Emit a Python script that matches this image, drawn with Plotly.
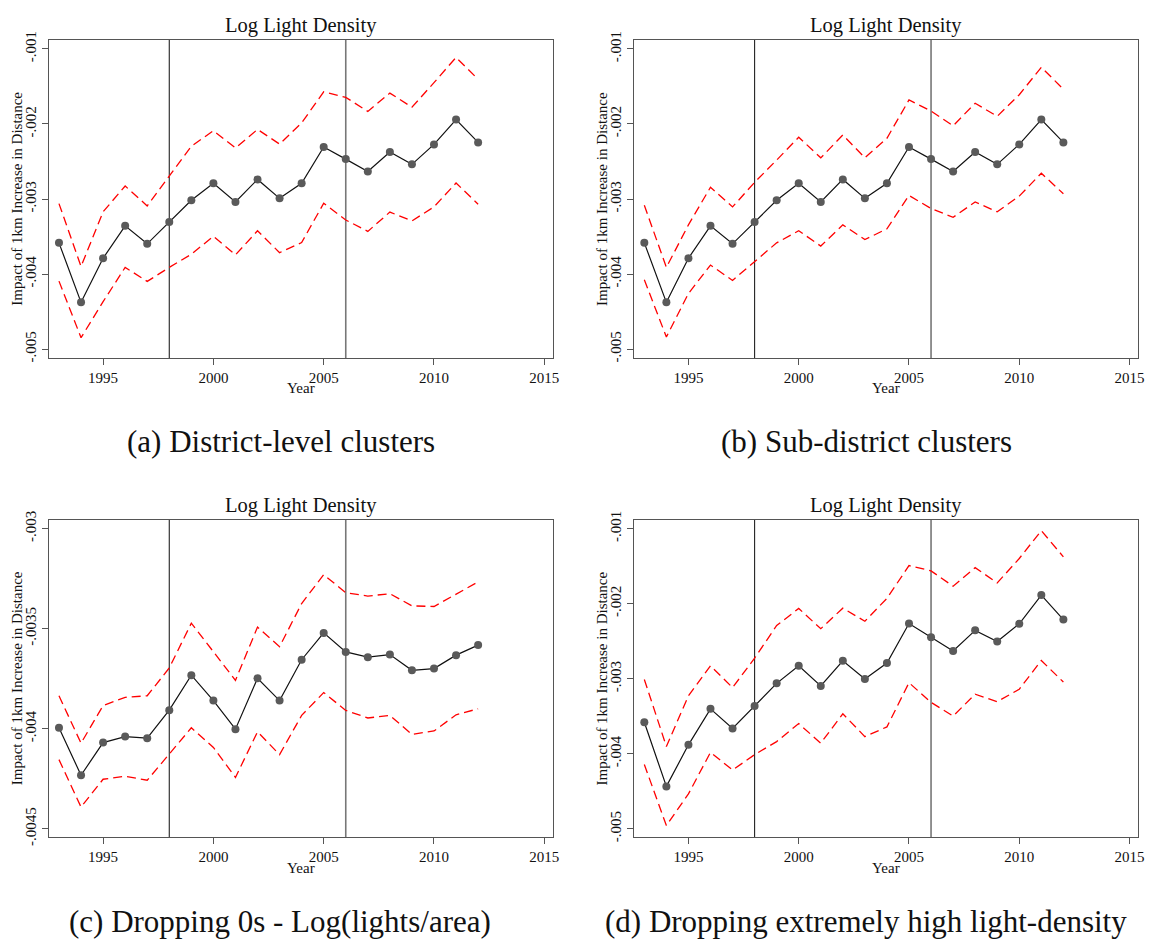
import plotly.graph_objects as go

years = list(range(1993, 2013))

# Panel (a) District-level clusters
est_a = [-0.003584, -0.004377, -0.003789, -0.003357, -0.003597, -0.003305, -0.003017, -0.002791, -0.003039, -0.002739,
         -0.002991, -0.002791, -0.002307, -0.002468, -0.002634, -0.002373, -0.002538, -0.002272, -0.001941, -0.002246]
hi_a = [-0.003061, -0.003898, -0.003170, -0.002826, -0.003092, -0.002691, -0.002298, -0.002089, -0.002320, -0.002072,
        -0.002268, -0.001985, -0.001571, -0.001645, -0.001832, -0.001588, -0.001776, -0.001449, -0.001113, -0.001405]
lo_a = [-0.004094, -0.004848, -0.004368, -0.003911, -0.004098, -0.003911, -0.003736, -0.003497, -0.003745, -0.003423,
        -0.003715, -0.003580, -0.003057, -0.003279, -0.003431, -0.003174, -0.003292, -0.003105, -0.002786, -0.003070]

# Panel (b) Sub-district clusters
est_b = [-0.003584, -0.004377, -0.003789, -0.003357, -0.003597, -0.003305, -0.003017, -0.002791, -0.003039, -0.002739,
         -0.002991, -0.002791, -0.002307, -0.002468, -0.002634, -0.002373, -0.002538, -0.002272, -0.001941, -0.002246]
hi_b = [-0.003083, -0.003911, -0.003344, -0.002843, -0.003105, -0.002778, -0.002481, -0.002176, -0.002451, -0.002146,
        -0.002451, -0.002190, -0.001680, -0.001828, -0.002024, -0.001723, -0.001898, -0.001610, -0.001244, -0.001536]
lo_b = [-0.004076, -0.004839, -0.004259, -0.003880, -0.004085, -0.003832, -0.003584, -0.003423, -0.003627, -0.003344,
        -0.003540, -0.003397, -0.002952, -0.003126, -0.003244, -0.003039, -0.003170, -0.002961, -0.002656, -0.002930]

# Panel (c) Dropping 0s - Log(lights/area)
est_c = [-0.003995, -0.004232, -0.004069, -0.004039, -0.004047, -0.003907, -0.003732, -0.003859, -0.004002, -0.003748,
         -0.003859, -0.003655, -0.003521, -0.003616, -0.003642, -0.003629, -0.003708, -0.003699, -0.003632, -0.003582]
hi_c = [-0.003835, -0.004072, -0.003884, -0.003843, -0.003835, -0.003696, -0.003472, -0.003618, -0.003758, -0.003492,
        -0.003590, -0.003374, -0.003230, -0.003320, -0.003337, -0.003325, -0.003386, -0.003389, -0.003328, -0.003266]
lo_c = [-0.004154, -0.004391, -0.004252, -0.004237, -0.004257, -0.004126, -0.003995, -0.004093, -0.004243, -0.004015,
        -0.004129, -0.003933, -0.003819, -0.003908, -0.003946, -0.003933, -0.004028, -0.004011, -0.003930, -0.003900]

# Panel (d) Dropping extremely high light-density
est_d = [-0.003580, -0.004434, -0.003880, -0.003401, -0.003662, -0.003362, -0.003061, -0.002826, -0.003096, -0.002760,
         -0.003004, -0.002791, -0.002264, -0.002447, -0.002630, -0.002355, -0.002503, -0.002268, -0.001885, -0.002211]
hi_d = [-0.003009, -0.003902, -0.003227, -0.002826, -0.003118, -0.002725, -0.002290, -0.002063, -0.002333, -0.002059,
        -0.002233, -0.001928, -0.001492, -0.001562, -0.001767, -0.001519, -0.001723, -0.001397, -0.001026, -0.001375]
lo_d = [-0.004142, -0.004956, -0.004534, -0.003980, -0.004216, -0.004011, -0.003837, -0.003597, -0.003858, -0.003466,
        -0.003771, -0.003641, -0.003052, -0.003314, -0.003497, -0.003205, -0.003305, -0.003139, -0.002756, -0.003044]

x_ticks = [1995, 2000, 2005, 2010, 2015]
y_ticks_main = [-0.001, -0.002, -0.003, -0.004, -0.005]
y_labels_main = ["-.001", "-.002", "-.003", "-.004", "-.005"]
y_ticks_c = [-0.003, -0.0035, -0.004, -0.0045]
y_labels_c = ["-.003", "-.0035", "-.004", "-.0045"]

panel_title = "Log Light Density"
x_title = "Year"
y_title = "Impact of 1km Increase in Distance"
captions = ["(a) District-level clusters", "(b) Sub-district clusters",
            "(c) Dropping 0s - Log(lights/area)", "(d) Dropping extremely high light-density"]
event_years = [1998, 2006]

W, H = 1158, 949
FONT = "Liberation Serif"

panels = [
    dict(est=est_a, hi=hi_a, lo=lo_a, yt=y_ticks_main, yl=y_labels_main, yr=[-0.005118, -0.000882],
         px=(49.3, 556.0), py=(31.7, 355.7)),
    dict(est=est_b, hi=hi_b, lo=lo_b, yt=y_ticks_main, yl=y_labels_main, yr=[-0.005118, -0.000882],
         px=(637.7, 1144.3), py=(31.7, 355.7)),
    dict(est=est_c, hi=hi_c, lo=lo_c, yt=y_ticks_c, yl=y_labels_c, yr=[-0.004542, -0.002956],
         px=(49.3, 556.0), py=(520.7, 844.3)),
    dict(est=est_d, hi=hi_d, lo=lo_d, yt=y_ticks_main, yl=y_labels_main, yr=[-0.005112, -0.000882],
         px=(637.7, 1144.3), py=(520.7, 844.3)),
]
caption_pos = [(282, 441), (871, 441), (281, 930), (871, 930)]

fig = go.Figure()
layout = dict(
    width=W, height=H, margin=dict(l=0, r=0, t=0, b=0),
    paper_bgcolor="white", plot_bgcolor="white", showlegend=False,
    font=dict(family=FONT, color="#111", size=15),
)
shapes = []
annotations = []

for i, p in enumerate(panels):
    n = i + 1
    xa = "x" if n == 1 else f"x{n}"
    ya = "y" if n == 1 else f"y{n}"
    xkey = "xaxis" if n == 1 else f"xaxis{n}"
    ykey = "yaxis" if n == 1 else f"yaxis{n}"
    xd = [p["px"][0] / W, p["px"][1] / W]
    yd = [1 - p["py"][1] / H, 1 - p["py"][0] / H]

    for ci in (p["hi"], p["lo"]):
        fig.add_trace(go.Scatter(x=years, y=ci, mode="lines", xaxis=xa, yaxis=ya,
                                 line=dict(color="#ff0000", width=1.3, dash="9px,5px"),
                                 hoverinfo="skip"))
    fig.add_trace(go.Scatter(x=years, y=p["est"], mode="lines+markers", xaxis=xa, yaxis=ya,
                             line=dict(color="#111111", width=1.2),
                             marker=dict(color="#5a5a5a", size=8)))

    layout[xkey] = dict(domain=xd, anchor=ya, range=[1992.55, 2015.4],
                        tickmode="array", tickvals=x_ticks, ticktext=[str(t) for t in x_ticks],
                        ticks="outside", ticklen=6, tickcolor="#555", tickwidth=1,
                        showline=True, linecolor="#555", linewidth=1, mirror=True,
                        showgrid=False, zeroline=False, tickfont=dict(size=15, family=FONT))
    layout[ykey] = dict(domain=yd, anchor=xa, range=p["yr"],
                        tickmode="array", tickvals=p["yt"], ticktext=p["yl"], tickangle=-90,
                        ticks="outside", ticklen=6, tickcolor="#555", tickwidth=1,
                        showline=True, linecolor="#555", linewidth=1, mirror=True,
                        showgrid=False, zeroline=False, tickfont=dict(size=15, family=FONT))

    for yr, col, wdt in zip(event_years, ["#222222", "#777777"], [1.1, 1.6]):
        shapes.append(dict(type="line", xref=xa, yref=f"{ya} domain", x0=yr, x1=yr, y0=0, y1=1,
                           line=dict(color=col, width=wdt), layer="below"))

    cx = (p["px"][0] + p["px"][1]) / 2
    cy = (p["py"][0] + p["py"][1]) / 2
    annotations.append(dict(text=panel_title, x=cx / W, y=1 - (p["py"][0] - 14.4) / H, xref="paper", yref="paper",
                            xanchor="center", yanchor="middle", showarrow=False,
                            font=dict(size=20.5, family=FONT, color="#111")))
    annotations.append(dict(text=x_title, x=cx / W, y=1 - (p["py"][1] + 31) / H, xref="paper", yref="paper",
                            xanchor="center", yanchor="middle", showarrow=False,
                            font=dict(size=15, family=FONT, color="#111")))
    annotations.append(dict(text=y_title, x=(p["px"][0] - 32.6) / W, y=1 - cy / H, xref="paper", yref="paper",
                            xanchor="center", yanchor="middle", showarrow=False, textangle=-90,
                            font=dict(size=15, family=FONT, color="#111")))
    cxp, cyp = caption_pos[i]
    annotations.append(dict(text=captions[i], x=cxp / W, y=1 - cyp / H, xref="paper", yref="paper",
                            xanchor="center", yanchor="middle", showarrow=False,
                            font=dict(size=31, family=FONT, color="#111")))

layout["shapes"] = shapes
layout["annotations"] = annotations
fig.update_layout(**layout)
fig.write_html("out.html")
